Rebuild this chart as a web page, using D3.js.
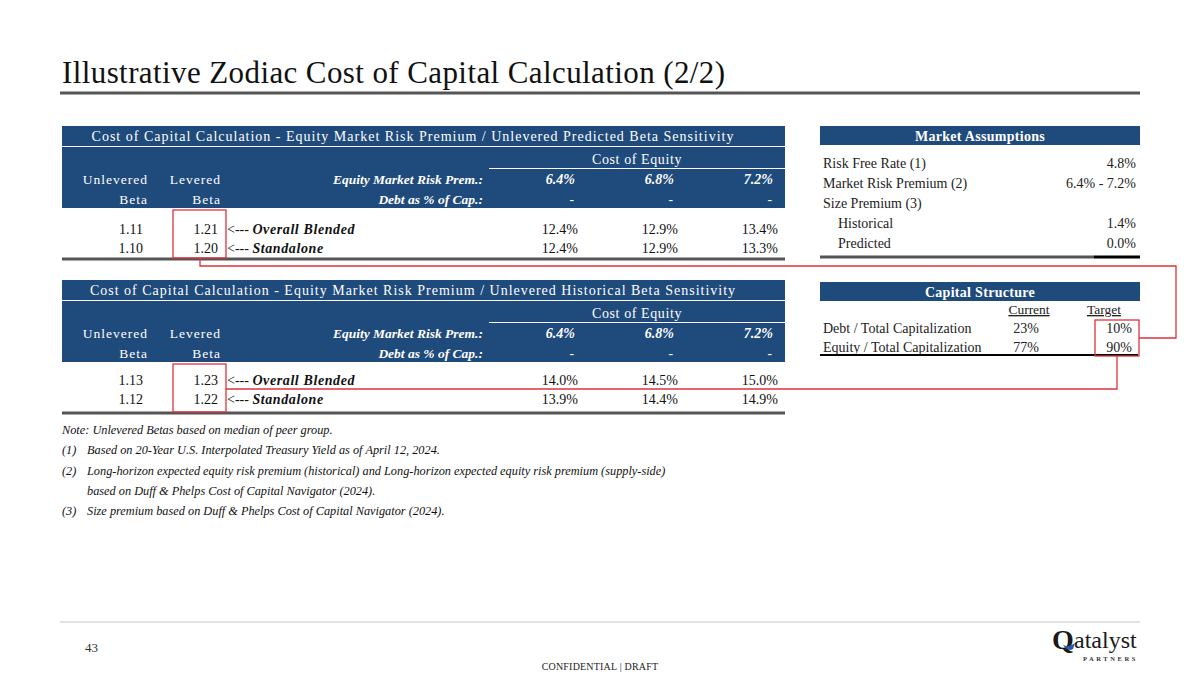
<!DOCTYPE html>
<html><head><meta charset="utf-8">
<script src="https://cdn.jsdelivr.net/npm/d3@7/dist/d3.min.js"></script>
<style>
html,body{margin:0;padding:0;background:#fff;}
svg text{font-family:"Liberation Serif","Times New Roman",serif;}
</style></head>
<body>
<svg id="chart" width="1200" height="675"></svg>
<script>
// ---------- DATA ----------
const pageTitle = "Illustrative Zodiac Cost of Capital Calculation (2/2)";
const tableTitles = [
  "Cost of Capital Calculation - Equity Market Risk Premium / Unlevered Predicted Beta Sensitivity",
  "Cost of Capital Calculation - Equity Market Risk Premium / Unlevered Historical Beta Sensitivity"
];
const premiums = ["6.4%", "6.8%", "7.2%"];
const debtPct = ["-", "-", "-"];
const rowLabels = ["Overall Blended", "Standalone"];
const predUnlevered = [1.11, 1.10];
const predLevered = [1.21, 1.20];
const predCoE = [[12.4, 12.9, 13.4], [12.4, 12.9, 13.3]];
const histUnlevered = [1.13, 1.12];
const histLevered = [1.23, 1.22];
const histCoE = [[14.0, 14.5, 15.0], [13.9, 14.4, 14.9]];
const marketLabels = ["Risk Free Rate (1)", "Market Risk Premium (2)", "Size Premium (3)", "Historical", "Predicted"];
const marketValues = ["4.8%", "6.4% - 7.2%", "", "1.4%", "0.0%"];
const marketIndent = [0, 0, 0, 1, 1];
const capLabels = ["Debt / Total Capitalization", "Equity / Total Capitalization"];
const capCurrent = [23, 77];
const capTarget = [10, 90];
const notes = [
  ["", "Note: Unlevered Betas based on median of peer group."],
  ["(1)", "Based on 20-Year U.S. Interpolated Treasury Yield as of April 12, 2024."],
  ["(2)", "Long-horizon expected equity risk premium (historical) and Long-horizon expected equity risk premium (supply-side)"],
  ["", "based on Duff & Phelps Cost of Capital Navigator (2024)."],
  ["(3)", "Size premium based on Duff & Phelps Cost of Capital Navigator (2024)."]
];
const pageNumber = "43";
const footerText = "CONFIDENTIAL | DRAFT";

// ---------- STYLE ----------
const BLUE = "#1f4a7c";
const RED = "#e0323a";
const svg = d3.select("#chart");

// Title
svg.append("text").attr("x", 62).attr("y", 83)
  .attr("font-size", 31).attr("letter-spacing", 0.4).attr("fill", "#111").text(pageTitle);
svg.append("line").attr("x1", 60).attr("x2", 1140).attr("y1", 93).attr("y2", 93)
  .attr("stroke", "#555").attr("stroke-width", 3);

// Column scale for the sensitivity tables (right-aligned anchors)
const colX = d3.scaleOrdinal()
  .domain(["unlev", "lev", "arrow", "label", "c0", "c1", "c2"])
  .range([143, 218, 227, 483, 578, 678, 778]);
const hdrX = d3.scaleOrdinal()
  .domain(["unlev", "lev", "c0", "c1", "c2"])
  .range([148, 221, 575, 674, 773]);
const fmtPct = d => d3.format(".1f")(d) + "%";
const fmtBeta = d3.format(".2f");

function drawSensitivity(top, title, unlev, lev, coe, rowRange, ruleY) {
  const g = svg.append("g").attr("transform", `translate(0,${top})`);
  const L = 62, R = 785;
  // header band
  g.append("rect").attr("x", L).attr("y", 0).attr("width", R - L).attr("height", 82).attr("fill", BLUE);
  g.append("line").attr("x1", L).attr("x2", R).attr("y1", 20.5).attr("y2", 20.5).attr("stroke", "#fff").attr("stroke-width", 1);
  g.append("text").attr("x", 413).attr("y", 15).attr("text-anchor", "middle")
    .attr("fill", "#fff").attr("font-size", 14).attr("letter-spacing", 1.0).text(title);
  g.append("text").attr("x", 637).attr("y", 38).attr("text-anchor", "middle")
    .attr("fill", "#fff").attr("font-size", 14).attr("letter-spacing", 0.6).text("Cost of Equity");
  g.append("line").attr("x1", 489).attr("x2", R).attr("y1", 42.5).attr("y2", 42.5).attr("stroke", "#fff").attr("stroke-width", 1.2);
  const hy = [58, 78];
  // header rows
  [["Unlevered", "unlev", 0], ["Levered", "lev", 0], ["Beta", "unlev", 1], ["Beta", "lev", 1]].forEach(([t, c, r]) => {
    g.append("text").attr("x", hdrX(c)).attr("y", hy[r]).attr("text-anchor", "end").attr("fill", "#fff")
      .attr("font-size", 13.5).attr("letter-spacing", 1).text(t);
  });
  g.append("text").attr("x", colX("label")).attr("y", hy[0]).attr("text-anchor", "end").attr("fill", "#fff")
    .attr("font-size", 13.5).attr("font-weight", "bold").attr("font-style", "italic").text("Equity Market Risk Prem.:");
  g.append("text").attr("x", colX("label")).attr("y", hy[1]).attr("text-anchor", "end").attr("fill", "#fff")
    .attr("font-size", 13.5).attr("font-weight", "bold").attr("font-style", "italic").text("Debt as % of Cap.:");
  g.selectAll("text.prem").data(premiums).join("text").attr("class", "prem")
    .attr("x", (d, i) => hdrX("c" + i)).attr("y", hy[0]).attr("text-anchor", "end").attr("fill", "#fff")
    .attr("font-size", 14).attr("font-weight", "bold").attr("font-style", "italic").text(d => d);
  g.selectAll("text.debt").data(debtPct).join("text").attr("class", "debt")
    .attr("x", (d, i) => hdrX("c" + i) - 1).attr("y", hy[1]).attr("text-anchor", "end").attr("fill", "#fff")
    .attr("font-size", 13.5).attr("font-weight", "bold").text(d => d);
  // data rows
  const rowY = d3.scalePoint().domain(d3.range(rowLabels.length)).range(rowRange);
  rowLabels.forEach((lab, i) => {
    const y = rowY(i);
    g.append("text").attr("x", colX("unlev")).attr("y", y).attr("text-anchor", "end").attr("font-size", 14).attr("fill", "#111").text(fmtBeta(unlev[i]));
    g.append("text").attr("x", colX("lev")).attr("y", y).attr("text-anchor", "end").attr("font-size", 14).attr("fill", "#111").text(fmtBeta(lev[i]));
    const t = g.append("text").attr("x", colX("arrow")).attr("y", y).attr("font-size", 14).attr("fill", "#111");
    t.append("tspan").text("<--- ");
    t.append("tspan").attr("font-weight", "bold").attr("font-style", "italic").attr("letter-spacing", 0.6).text(lab);
    coe[i].forEach((v, j) => {
      g.append("text").attr("x", colX("c" + j)).attr("y", y).attr("text-anchor", "end").attr("font-size", 14).attr("fill", "#111").text(fmtPct(v));
    });
  });
  g.append("line").attr("x1", L).attr("x2", R).attr("y1", ruleY).attr("y2", ruleY).attr("stroke", "#555").attr("stroke-width", 3);
}

drawSensitivity(126, tableTitles[0], predUnlevered, predLevered, predCoE, [108, 127], 133);
drawSensitivity(280, tableTitles[1], histUnlevered, histLevered, histCoE, [105, 124], 133);

// Market Assumptions
(function () {
  const g = svg.append("g").attr("transform", "translate(0,126)");
  g.append("rect").attr("x", 820).attr("y", 0).attr("width", 320).attr("height", 19).attr("fill", BLUE);
  g.append("text").attr("x", 980).attr("y", 14.5).attr("text-anchor", "middle").attr("fill", "#fff")
    .attr("font-size", 14).attr("font-weight", "bold").attr("letter-spacing", 0.3).text("Market Assumptions");
  const y = d3.scalePoint().domain(d3.range(marketLabels.length)).range([42, 122]);
  g.selectAll("text.ml").data(marketLabels).join("text").attr("class", "ml")
    .attr("x", (d, i) => 823 + marketIndent[i] * 15).attr("y", (d, i) => y(i))
    .attr("font-size", 14).attr("fill", "#222").text(d => d);
  g.selectAll("text.mv").data(marketValues).join("text").attr("class", "mv")
    .attr("x", 1136).attr("y", (d, i) => y(i)).attr("text-anchor", "end")
    .attr("font-size", 14).attr("fill", "#222").text(d => d);
  g.append("line").attr("x1", 820).attr("x2", 1094).attr("y1", 131).attr("y2", 131).attr("stroke", "#555").attr("stroke-width", 3);
  g.append("line").attr("x1", 1094).attr("x2", 1140).attr("y1", 131).attr("y2", 131).attr("stroke", "#000").attr("stroke-width", 3);
})();

// Capital Structure
(function () {
  const g = svg.append("g").attr("transform", "translate(0,282)");
  g.append("rect").attr("x", 820).attr("y", 0).attr("width", 320).attr("height", 19).attr("fill", BLUE);
  g.append("text").attr("x", 980).attr("y", 14.5).attr("text-anchor", "middle").attr("fill", "#fff")
    .attr("font-size", 14).attr("font-weight", "bold").attr("letter-spacing", 0.3).text("Capital Structure");
  [["Current", 1029], ["Target", 1104]].forEach(([t, x]) => {
    g.append("text").attr("x", x).attr("y", 32).attr("text-anchor", "middle").attr("font-size", 13.5)
      .attr("fill", "#222").attr("text-decoration", "underline").text(t);
  });
  const y = d3.scalePoint().domain(d3.range(capLabels.length)).range([51, 70]);
  g.selectAll("text.cl").data(capLabels).join("text").attr("class", "cl")
    .attr("x", 823).attr("y", (d, i) => y(i)).attr("font-size", 14).attr("fill", "#222").text(d => d);
  g.selectAll("text.cc").data(capCurrent).join("text").attr("class", "cc")
    .attr("x", 1026).attr("y", (d, i) => y(i)).attr("text-anchor", "middle").attr("font-size", 14).attr("fill", "#222").text(d => d + "%");
  g.selectAll("text.ct").data(capTarget).join("text").attr("class", "ct")
    .attr("x", 1132).attr("y", (d, i) => y(i)).attr("text-anchor", "end").attr("font-size", 14).attr("fill", "#222").text(d => d + "%");
  g.append("line").attr("x1", 820).attr("x2", 1138).attr("y1", 73).attr("y2", 73).attr("stroke", "#000").attr("stroke-width", 2);
})();

// Red highlight boxes and connectors
const red = svg.append("g").attr("fill", "none").attr("stroke", RED).attr("stroke-width", 1.3);
red.append("rect").attr("x", 173).attr("y", 210).attr("width", 53).attr("height", 48);
red.append("rect").attr("x", 173).attr("y", 364).attr("width", 53).attr("height", 48);
red.append("rect").attr("x", 1095).attr("y", 320).attr("width", 44).attr("height", 36);
red.append("path").attr("d", d3.line()([[200, 258], [200, 266], [1176, 266], [1176, 338], [1139, 338]]));
red.append("path").attr("d", d3.line()([[1117, 356], [1117, 389], [226, 389]]));

// Notes
const noteY = d3.scalePoint().domain(d3.range(notes.length)).range([434, 515]);
notes.forEach((n, i) => {
  if (n[0]) svg.append("text").attr("x", 62).attr("y", noteY(i)).attr("font-size", 12.3).attr("font-style", "italic").attr("fill", "#111").text(n[0]);
  svg.append("text").attr("x", i === 0 ? 62 : 87).attr("y", noteY(i)).attr("font-size", 12.3).attr("font-style", "italic").attr("fill", "#111").text(n[1]);
});

// Footer
svg.append("line").attr("x1", 60).attr("x2", 1140).attr("y1", 622).attr("y2", 622).attr("stroke", "#d9d9d9").attr("stroke-width", 1.5);
svg.append("text").attr("x", 85).attr("y", 652).attr("font-size", 13).attr("fill", "#333").text(pageNumber);
svg.append("text").attr("x", 600).attr("y", 670).attr("text-anchor", "middle").attr("font-size", 10).attr("fill", "#222").attr("letter-spacing", 0.2).text(footerText);
// Logo
const logo = svg.append("g");
logo.append("text").attr("x", 1052).attr("y", 649).attr("font-family", "'Liberation Sans Narrow','Liberation Sans',sans-serif")
  .attr("font-size", 28).attr("fill", "#1a1a1a").attr("font-weight", "bold").text("Q");
logo.append("path").attr("d", "M1063,645 q6,3 12,-2 l-2,6 q-5,3 -10,-4z").attr("fill", "#2a5aa8");
logo.append("text").attr("x", 1074).attr("y", 648).attr("font-family", "'Liberation Sans Narrow','Liberation Sans',sans-serif")
  .attr("font-size", 24).attr("fill", "#1a1a1a").text("atalyst");
logo.append("text").attr("x", 1138).attr("y", 661).attr("text-anchor", "end").attr("font-size", 6.5)
  .attr("letter-spacing", 2.6).attr("font-weight", "bold").attr("fill", "#333").text("PARTNERS");
</script>
</body></html>
